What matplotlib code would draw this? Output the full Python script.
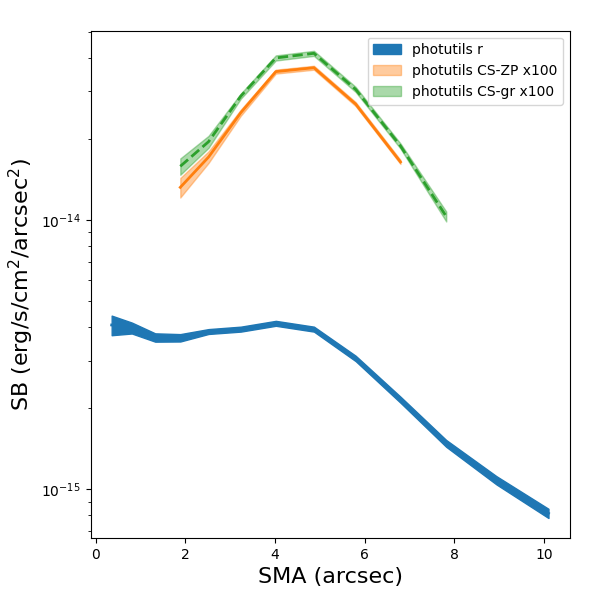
import matplotlib
matplotlib.use("Agg")
from matplotlib import pyplot as plt
import numpy as np

# SMA grid (arcsec)
sma = np.array([0.36, 0.81, 1.33, 1.89, 2.52, 3.24, 4.02, 4.87, 5.80, 6.80, 7.82, 8.94, 10.10])

# photutils r profile
sb_r = np.array([4.07e-15, 3.97e-15, 3.66e-15, 3.65e-15, 3.85e-15, 3.93e-15, 4.13e-15,
                 3.93e-15, 3.06e-15, 2.15e-15, 1.48e-15, 1.08e-15, 8.14e-16])
err_r = np.array([3.4e-16, 1.85e-16, 1.3e-16, 1.15e-16, 8e-17, 8.3e-17, 8.7e-17,
                  8.3e-17, 7e-17, 5.5e-17, 4.3e-17, 3.8e-17, 3.2e-17])

# CS profiles (x100), start at 4th SMA point
sma_zp = sma[3:10]
sb_zp = np.array([1.32e-14, 1.71e-14, 2.50e-14, 3.55e-14, 3.67e-14, 2.69e-14, 1.64e-14])
err_zp = np.array([1.1e-15, 8.5e-16, 6.5e-16, 6e-16, 6.2e-16, 4.6e-16, 2.8e-16])

sma_gr = sma[3:11]
sb_gr = np.array([1.58e-14, 1.95e-14, 2.88e-14, 3.99e-14, 4.15e-14, 3.05e-14, 1.88e-14, 1.03e-14])
err_gr = np.array([1.1e-15, 1.0e-15, 6.3e-16, 8.8e-16, 9e-16, 6.7e-16, 4.1e-16, 4.4e-16])

fig = plt.figure(figsize=(6, 6), dpi=100)
ax = fig.add_axes([0.151, 0.103, 0.799, 0.846])

ax.fill_between(sma, sb_r - err_r, sb_r + err_r, color='C0', alpha=1.0, label='photutils r')
ax.plot(sma, sb_r, color='C0', lw=2)

ax.fill_between(sma_zp, sb_zp - err_zp, sb_zp + err_zp, color='C1', alpha=0.4, label='photutils CS-ZP x100')
ax.plot(sma_zp, sb_zp, color='C1', lw=2)

ax.fill_between(sma_gr, sb_gr - err_gr, sb_gr + err_gr, color='C2', alpha=0.4, label='photutils CS-gr x100')
ax.plot(sma_gr, sb_gr, color='C2', lw=2, linestyle='--')

ax.set_yscale('log')
ax.set_xlim(-0.11, 10.58)
ax.set_ylim(6.58e-16, 5.04e-14)
ax.set_xlabel('SMA (arcsec)', fontsize=16)
ax.set_ylabel('SB (erg/s/cm$^2$/arcsec$^2$)', fontsize=16)
ax.legend(loc='upper right')

plt.savefig('out.png', dpi=100)
